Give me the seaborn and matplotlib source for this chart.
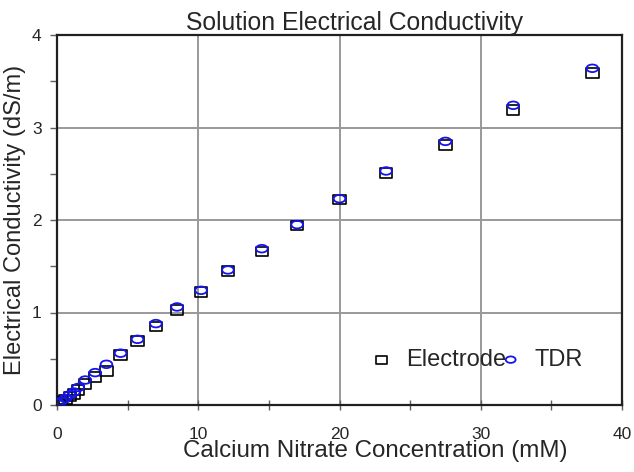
import matplotlib
matplotlib.use("Agg")
import matplotlib.pyplot as plt
import pandas as pd
import seaborn as sns
from matplotlib.path import Path
from matplotlib.ticker import MultipleLocator

# Calcium nitrate concentration (mM)
concentration = [0.1, 0.3, 0.6, 0.9, 1.2, 1.5, 2.0, 2.7, 3.5, 4.5, 5.7, 7.0,
                 8.5, 10.2, 12.1, 14.5, 17.0, 20.0, 23.3, 27.5, 32.3, 37.9]
# Electrical conductivity (dS/m)
electrode = [0.01, 0.03, 0.06, 0.09, 0.12, 0.16, 0.23, 0.30, 0.37, 0.54, 0.69, 0.85,
             1.03, 1.22, 1.45, 1.66, 1.94, 2.22, 2.51, 2.81, 3.19, 3.59]
tdr = [0.02, 0.04, 0.07, 0.11, 0.14, 0.19, 0.27, 0.35, 0.44, 0.56, 0.71, 0.88,
       1.06, 1.24, 1.46, 1.69, 1.95, 2.23, 2.53, 2.85, 3.24, 3.64]

# slightly wide markers, like the original
BOX = Path([(-1.3, -1.0), (1.3, -1.0), (1.3, 1.0), (-1.3, 1.0), (-1.3, -1.0)],
           [Path.MOVETO, Path.LINETO, Path.LINETO, Path.LINETO, Path.CLOSEPOLY])
_circ = Path.unit_circle()
OVAL = Path(_circ.vertices * [1.3, 0.85], _circ.codes)


def main() -> None:
    sns.set_style("white")
    plt.rcParams["font.family"] = ["Liberation Sans", "DejaVu Sans"]

    df = pd.DataFrame({"conc": concentration, "Electrode": electrode, "TDR": tdr})

    fig = plt.figure(figsize=(6.34, 4.72), dpi=100)
    ax = fig.add_axes([57 / 634, 1 - 405 / 472, 565 / 634, 370 / 472])

    sns.scatterplot(data=df, x="conc", y="Electrode", marker=BOX, s=80,
                    facecolor="none", edgecolor="black", linewidth=1.2,
                    label="Electrode", ax=ax, zorder=3)
    sns.scatterplot(data=df, x="conc", y="TDR", marker=OVAL, s=70,
                    facecolor="none", edgecolor="#1414f0", linewidth=1.3,
                    label="TDR", ax=ax, zorder=4)

    ax.set_xlim(0, 40)
    ax.set_ylim(0, 4)
    ax.xaxis.set_major_locator(MultipleLocator(10))
    ax.xaxis.set_minor_locator(MultipleLocator(5))
    ax.yaxis.set_major_locator(MultipleLocator(1))
    ax.yaxis.set_minor_locator(MultipleLocator(0.5))
    ax.grid(which="major", color="#999999", linewidth=1.4)
    ax.tick_params(axis="x", which="both", direction="inout", length=7, width=1,
                   color="#606060", labelsize=12.5, pad=12, bottom=True)
    ax.tick_params(axis="y", which="both", direction="out", length=5, width=1,
                   color="#606060", labelsize=12.5, pad=6, left=True)
    for side in ["left", "bottom", "top", "right"]:
        ax.spines[side].set_color("#202020")
        ax.spines[side].set_linewidth(1.6)

    ax.set_xlabel("Calcium Nitrate Concentration (mM)", fontsize=17.4)
    ax.xaxis.set_label_coords(0.563, -0.095)
    ax.set_ylabel("Electrical Conductivity (dS/m)", fontsize=17)
    ax.yaxis.set_label_coords(-0.055, 0.5)
    ax.set_title("Solution Electrical Conductivity", fontsize=17.8, pad=2, x=0.527)

    ax.legend(loc="center left", bbox_to_anchor=(0.566, 0.122), ncol=2,
              frameon=False, fontsize=17, handlelength=0.4, handletextpad=0.83,
              columnspacing=0.0, borderpad=0, borderaxespad=0, markerscale=0.85)

    fig.savefig("out.png", dpi=100)
    plt.close(fig)


if __name__ == "__main__":
    main()
